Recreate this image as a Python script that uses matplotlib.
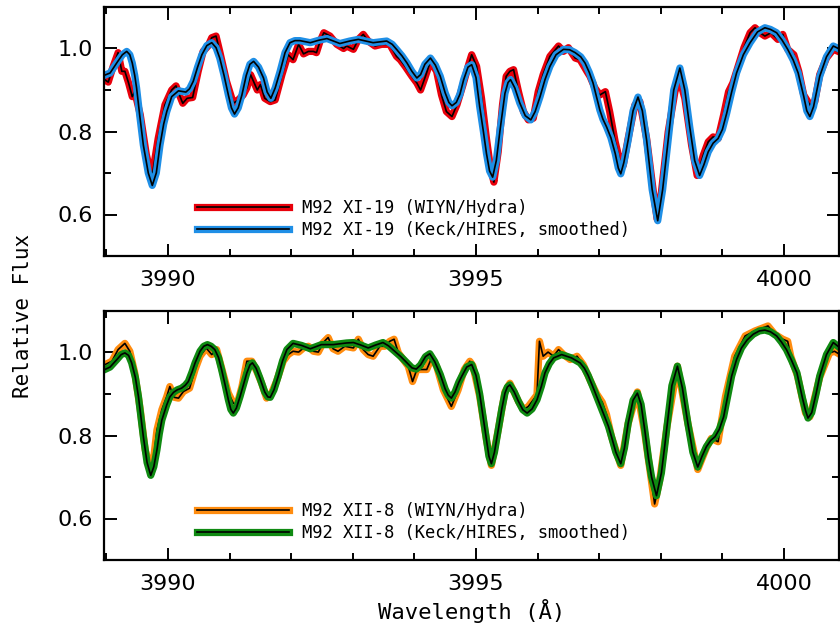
import numpy as np
import matplotlib.pyplot as plt
from matplotlib.ticker import MultipleLocator, FormatStrFormatter
from matplotlib.legend_handler import HandlerTuple

# M92 XI-19, WIYN/Hydra
wl_xi19_wiyn = [3988.95, 3989.03, 3989.11, 3989.19, 3989.25, 3989.30, 3989.36, 3989.42, 3989.46, 3989.55,
                3989.65, 3989.74, 3989.84, 3989.95, 3990.06, 3990.13, 3990.18, 3990.24, 3990.31, 3990.40,
                3990.49, 3990.57, 3990.65, 3990.71, 3990.78, 3990.84, 3990.95, 3991.06, 3991.14, 3991.22,
                3991.28, 3991.34, 3991.40, 3991.45, 3991.50, 3991.57, 3991.66, 3991.74, 3991.85, 3991.95,
                3992.03, 3992.12, 3992.20, 3992.28, 3992.36, 3992.41, 3992.47, 3992.53, 3992.63, 3992.74,
                3992.85, 3992.90, 3993.01, 3993.09, 3993.17, 3993.25, 3993.36, 3993.47, 3993.60, 3993.71,
                3993.77, 3993.85, 3993.96, 3994.04, 3994.10, 3994.17, 3994.26, 3994.36, 3994.44, 3994.52,
                3994.61, 3994.69, 3994.79, 3994.88, 3994.93, 3995.01, 3995.09, 3995.17, 3995.23, 3995.29,
                3995.36, 3995.43, 3995.49, 3995.55, 3995.61, 3995.69, 3995.77, 3995.85, 3995.93, 3996.01,
                3996.09, 3996.20, 3996.34, 3996.42, 3996.50, 3996.61, 3996.69, 3996.80, 3996.85, 3996.93,
                3997.01, 3997.10, 3997.17, 3997.26, 3997.34, 3997.39, 3997.47, 3997.58, 3997.66, 3997.77,
                3997.88, 3997.94, 3998.01, 3998.12, 3998.23, 3998.30, 3998.39, 3998.50, 3998.59, 3998.69,
                3998.77, 3998.85, 3998.93, 3999.02, 3999.10, 3999.17, 3999.23, 3999.35, 3999.45, 3999.53,
                3999.61, 3999.69, 3999.79, 3999.90, 3999.98, 4000.06, 4000.16, 4000.24, 4000.32, 4000.42,
                4000.50, 4000.58, 4000.69, 4000.80, 4000.88]
fx_xi19_wiyn = [0.927, 0.919, 0.957, 0.990, 0.945, 0.945, 0.917, 0.884, 0.896, 0.840,
                0.743, 0.690, 0.783, 0.864, 0.900, 0.910, 0.890, 0.868, 0.880, 0.882,
                0.945, 0.993, 1.006, 1.026, 1.030, 0.993, 0.921, 0.868, 0.876, 0.888,
                0.905, 0.937, 0.917, 0.900, 0.913, 0.880, 0.872, 0.876, 0.937, 0.985,
                0.973, 1.010, 0.987, 0.993, 0.993, 0.990, 1.018, 1.038, 1.030, 1.010,
                1.000, 1.006, 0.998, 1.022, 1.034, 1.018, 1.006, 1.010, 1.010, 0.981,
                0.973, 0.957, 0.933, 0.917, 0.900, 0.929, 0.969, 0.945, 0.888, 0.848,
                0.836, 0.864, 0.913, 0.961, 0.985, 0.957, 0.880, 0.783, 0.718, 0.678,
                0.751, 0.864, 0.933, 0.945, 0.949, 0.896, 0.848, 0.828, 0.832, 0.896,
                0.937, 0.981, 1.006, 0.993, 1.002, 0.977, 0.973, 0.945, 0.933, 0.905,
                0.888, 0.896, 0.848, 0.775, 0.726, 0.718, 0.783, 0.864, 0.872, 0.783,
                0.654, 0.589, 0.654, 0.799, 0.896, 0.929, 0.880, 0.767, 0.694, 0.743,
                0.775, 0.787, 0.783, 0.840, 0.896, 0.917, 0.945, 1.002, 1.038, 1.050,
                1.038, 1.030, 1.038, 1.022, 1.034, 0.998, 0.985, 0.945, 0.888, 0.864,
                0.872, 0.937, 0.977, 0.998, 0.993]

# M92 XI-19, Keck/HIRES smoothed
wl_xi19_keck = [3988.96, 3989.06, 3989.18, 3989.26, 3989.33, 3989.38, 3989.42, 3989.46, 3989.49, 3989.54,
                3989.60, 3989.68, 3989.745, 3989.81, 3989.87, 3989.93, 3989.98, 3990.06, 3990.17, 3990.29,
                3990.35, 3990.41, 3990.48, 3990.55, 3990.63, 3990.71, 3990.78, 3990.84, 3990.91, 3990.98,
                3991.03, 3991.08, 3991.14, 3991.20, 3991.27, 3991.33, 3991.39, 3991.47, 3991.55, 3991.61,
                3991.67, 3991.74, 3991.82, 3991.90, 3991.98, 3992.06, 3992.14, 3992.31, 3992.45, 3992.58,
                3992.79, 3992.95, 3993.09, 3993.33, 3993.55, 3993.64, 3993.71, 3993.80, 3993.88, 3993.96,
                3994.04, 3994.10, 3994.17, 3994.26, 3994.34, 3994.42, 3994.50, 3994.56, 3994.61, 3994.68,
                3994.74, 3994.80, 3994.87, 3994.93, 3995.00, 3995.06, 3995.12, 3995.17, 3995.22, 3995.27,
                3995.33, 3995.39, 3995.47, 3995.52, 3995.56, 3995.63, 3995.71, 3995.80, 3995.89, 3995.96,
                3996.04, 3996.12, 3996.20, 3996.30, 3996.42, 3996.52, 3996.61, 3996.70, 3996.77, 3996.84,
                3996.90, 3996.96, 3997.01, 3997.06, 3997.12, 3997.19, 3997.26, 3997.31, 3997.35, 3997.40,
                3997.47, 3997.55, 3997.63, 3997.70, 3997.77, 3997.86, 3997.95, 3998.03, 3998.12, 3998.21,
                3998.31, 3998.39, 3998.47, 3998.55, 3998.63, 3998.70, 3998.77, 3998.85, 3998.93, 3999.00,
                3999.07, 3999.15, 3999.23, 3999.34, 3999.45, 3999.57, 3999.69, 3999.78, 3999.88, 3999.97,
                4000.06, 4000.15, 4000.23, 4000.32, 4000.37, 4000.42, 4000.48, 4000.58, 4000.69, 4000.80,
                4000.91]
fx_xi19_keck = [0.935, 0.941, 0.968, 0.985, 0.993, 0.985, 0.965, 0.935, 0.905, 0.840,
                0.767, 0.700, 0.670, 0.700, 0.767, 0.818, 0.848, 0.884, 0.898, 0.895,
                0.903, 0.921, 0.955, 0.985, 1.007, 1.014, 1.002, 0.977, 0.935, 0.888,
                0.857, 0.842, 0.857, 0.888, 0.935, 0.962, 0.969, 0.955, 0.929, 0.895,
                0.880, 0.905, 0.945, 0.990, 1.014, 1.019, 1.019, 1.014, 1.020, 1.024,
                1.012, 1.018, 1.022, 1.014, 1.018, 1.010, 0.998, 0.982, 0.965, 0.945,
                0.929, 0.937, 0.962, 0.977, 0.960, 0.933, 0.893, 0.870, 0.862, 0.870,
                0.890, 0.925, 0.955, 0.961, 0.930, 0.860, 0.800, 0.747, 0.705, 0.690,
                0.730, 0.803, 0.892, 0.918, 0.925, 0.905, 0.869, 0.838, 0.828, 0.848,
                0.884, 0.925, 0.957, 0.985, 0.998, 0.997, 0.990, 0.980, 0.965, 0.942,
                0.917, 0.882, 0.852, 0.830, 0.811, 0.785, 0.747, 0.712, 0.698, 0.725,
                0.779, 0.850, 0.883, 0.850, 0.779, 0.660, 0.585, 0.660, 0.779, 0.900,
                0.953, 0.900, 0.811, 0.730, 0.694, 0.720, 0.751, 0.772, 0.783, 0.805,
                0.844, 0.895, 0.941, 0.985, 1.014, 1.040, 1.050, 1.046, 1.038, 1.020,
                0.998, 0.972, 0.941, 0.885, 0.850, 0.836, 0.860, 0.933, 0.980, 1.006,
                0.998]

# M92 XII-8, WIYN/Hydra
wl_xii8_wiyn = [3988.98, 3989.09, 3989.19, 3989.30, 3989.38, 3989.46, 3989.55, 3989.63, 3989.71, 3989.75,
                3989.82, 3989.90, 3989.98, 3990.03, 3990.10, 3990.17, 3990.25, 3990.35, 3990.44, 3990.52,
                3990.62, 3990.71, 3990.79, 3990.87, 3990.98, 3991.06, 3991.12, 3991.20, 3991.28, 3991.36,
                3991.44, 3991.52, 3991.60, 3991.68, 3991.76, 3991.87, 3991.95, 3992.03, 3992.12, 3992.20,
                3992.28, 3992.36, 3992.44, 3992.52, 3992.60, 3992.68, 3992.76, 3992.87, 3993.01, 3993.09,
                3993.17, 3993.25, 3993.33, 3993.44, 3993.52, 3993.60, 3993.67, 3993.74, 3993.82, 3993.90,
                3993.97, 3994.04, 3994.12, 3994.20, 3994.28, 3994.36, 3994.47, 3994.60, 3994.71, 3994.81,
                3994.90, 3994.95, 3995.06, 3995.17, 3995.25, 3995.36, 3995.47, 3995.55, 3995.69, 3995.77,
                3995.85, 3995.93, 3995.99, 3996.03, 3996.09, 3996.17, 3996.26, 3996.34, 3996.42, 3996.53,
                3996.64, 3996.74, 3996.85, 3996.96, 3997.05, 3997.12, 3997.20, 3997.35, 3997.47, 3997.62,
                3997.74, 3997.82, 3997.90, 3997.98, 3998.10, 3998.27, 3998.44, 3998.60, 3998.74, 3998.82,
                3998.93, 3999.05, 3999.20, 3999.37, 3999.53, 3999.74, 3999.85, 3999.98, 4000.06, 4000.11,
                4000.22, 4000.35, 4000.42, 4000.58, 4000.74, 4000.82, 4000.91]
fx_xii8_wiyn = [0.971, 0.979, 1.007, 1.022, 1.003, 0.951, 0.862, 0.765, 0.724, 0.724,
                0.813, 0.862, 0.894, 0.918, 0.892, 0.890, 0.906, 0.914, 0.959, 0.991,
                1.011, 0.995, 1.007, 0.963, 0.902, 0.878, 0.874, 0.918, 0.979, 0.979,
                0.955, 0.926, 0.890, 0.902, 0.930, 0.979, 0.995, 1.003, 1.001, 1.011,
                1.015, 1.003, 1.001, 1.024, 1.036, 1.009, 1.003, 1.015, 1.011, 1.032,
                1.007, 0.995, 0.991, 1.015, 1.015, 1.027, 1.032, 0.999, 0.983, 0.967,
                0.930, 0.959, 0.959, 0.959, 0.987, 0.967, 0.910, 0.870, 0.910, 0.959,
                0.979, 0.968, 0.894, 0.789, 0.728, 0.813, 0.905, 0.926, 0.882, 0.862,
                0.870, 0.886, 0.898, 1.027, 0.991, 1.001, 0.991, 1.007, 0.995, 0.983,
                0.991, 0.971, 0.934, 0.900, 0.880, 0.850, 0.797, 0.728, 0.829, 0.905,
                0.805, 0.720, 0.635, 0.690, 0.821, 0.967, 0.829, 0.718, 0.770, 0.793,
                0.785, 0.894, 0.991, 1.040, 1.052, 1.064, 1.044, 1.032, 1.027, 0.991,
                0.943, 0.854, 0.845, 0.940, 0.999, 1.003, 0.995]

# M92 XII-8, Keck/HIRES smoothed
wl_xii8_keck = [3988.96, 3989.06, 3989.17, 3989.24, 3989.30, 3989.36, 3989.41, 3989.47, 3989.52, 3989.56,
                3989.60, 3989.66, 3989.72, 3989.77, 3989.82, 3989.86, 3989.90, 3989.98, 3990.03, 3990.09,
                3990.15, 3990.22, 3990.28, 3990.33, 3990.39, 3990.44, 3990.52, 3990.58, 3990.64, 3990.70,
                3990.76, 3990.82, 3990.87, 3990.93, 3990.98, 3991.02, 3991.06, 3991.11, 3991.17, 3991.23,
                3991.28, 3991.33, 3991.37, 3991.43, 3991.49, 3991.57, 3991.62, 3991.66, 3991.72, 3991.79,
                3991.86, 3991.93, 3992.03, 3992.17, 3992.31, 3992.40, 3992.49, 3992.68, 3992.90, 3993.01,
                3993.13, 3993.25, 3993.37, 3993.49, 3993.58, 3993.68, 3993.78, 3993.88, 3993.96, 3994.03,
                3994.10, 3994.18, 3994.25, 3994.33, 3994.42, 3994.50, 3994.55, 3994.60, 3994.66, 3994.72,
                3994.77, 3994.85, 3994.93, 3995.00, 3995.06, 3995.12, 3995.17, 3995.21, 3995.25, 3995.30,
                3995.36, 3995.42, 3995.47, 3995.51, 3995.55, 3995.62, 3995.69, 3995.76, 3995.83, 3995.91,
                3995.99, 3996.06, 3996.12, 3996.19, 3996.26, 3996.39, 3996.55, 3996.69, 3996.76, 3996.82,
                3996.89, 3996.96, 3997.03, 3997.09, 3997.15, 3997.20, 3997.27, 3997.35, 3997.41, 3997.47,
                3997.55, 3997.62, 3997.68, 3997.74, 3997.80, 3997.85, 3997.93, 3998.01, 3998.06, 3998.10,
                3998.18, 3998.27, 3998.35, 3998.44, 3998.52, 3998.60, 3998.67, 3998.74, 3998.81, 3998.88,
                3998.95, 3999.02, 3999.08, 3999.15, 3999.23, 3999.31, 3999.40, 3999.50, 3999.60, 3999.69,
                3999.78, 3999.88, 3999.96, 4000.04, 4000.12, 4000.21, 4000.30, 4000.35, 4000.39, 4000.45,
                4000.52, 4000.58, 4000.69, 4000.80, 4000.91]
fx_xii8_keck = [0.958, 0.965, 0.983, 0.995, 0.999, 0.993, 0.975, 0.940, 0.894, 0.845,
                0.797, 0.735, 0.704, 0.725, 0.765, 0.805, 0.837, 0.874, 0.893, 0.904,
                0.910, 0.914, 0.921, 0.930, 0.953, 0.975, 1.003, 1.015, 1.019, 1.015,
                1.007, 0.988, 0.959, 0.920, 0.886, 0.863, 0.854, 0.866, 0.894, 0.925,
                0.951, 0.970, 0.975, 0.962, 0.939, 0.905, 0.893, 0.892, 0.910, 0.943,
                0.980, 1.007, 1.022, 1.017, 1.009, 1.014, 1.019, 1.019, 1.023, 1.024,
                1.018, 1.011, 1.018, 1.024, 1.016, 1.003, 0.990, 0.975, 0.963, 0.960,
                0.970, 0.990, 0.997, 0.978, 0.947, 0.912, 0.897, 0.890, 0.905, 0.928,
                0.943, 0.965, 0.971, 0.945, 0.900, 0.840, 0.789, 0.750, 0.732, 0.760,
                0.813, 0.865, 0.902, 0.917, 0.922, 0.905, 0.882, 0.862, 0.854, 0.864,
                0.886, 0.918, 0.951, 0.973, 0.987, 0.995, 0.987, 0.975, 0.962, 0.945,
                0.920, 0.894, 0.868, 0.845, 0.822, 0.797, 0.760, 0.732, 0.770, 0.829,
                0.885, 0.902, 0.875, 0.813, 0.745, 0.700, 0.655, 0.710, 0.770, 0.821,
                0.920, 0.967, 0.915, 0.829, 0.760, 0.724, 0.750, 0.773, 0.788, 0.797,
                0.815, 0.845, 0.890, 0.943, 0.983, 1.011, 1.030, 1.044, 1.052, 1.054,
                1.050, 1.040, 1.025, 1.007, 0.982, 0.951, 0.890, 0.860, 0.842, 0.855,
                0.900, 0.943, 0.995, 1.024, 1.011]

labels_top = ["M92 XI-19 (WIYN/Hydra)", "M92 XI-19 (Keck/HIRES, smoothed)"]
labels_bot = ["M92 XII-8 (WIYN/Hydra)", "M92 XII-8 (Keck/HIRES, smoothed)"]

tick_font = "DejaVu Sans"
text_font = "DejaVu Sans Mono"


def spectrum(ax, wl, fx, color):
    # thick coloured band with a thin black trace on top
    band, = ax.plot(wl, fx, color=color, lw=5.2, solid_joinstyle="round")
    core, = ax.plot(wl, fx, color="black", lw=1.2, solid_joinstyle="round")
    return (band, core)


def style(ax):
    ax.set_xlim(3988.961, 4000.893)
    ax.set_ylim(0.5, 1.1)
    ax.xaxis.set_major_locator(MultipleLocator(5))
    ax.xaxis.set_minor_locator(MultipleLocator(1))
    ax.yaxis.set_major_locator(MultipleLocator(0.2))
    ax.yaxis.set_minor_locator(MultipleLocator(0.1))
    ax.yaxis.set_major_formatter(FormatStrFormatter("%.1f"))
    ax.xaxis.set_major_formatter(FormatStrFormatter("%d"))
    ax.tick_params(which="both", direction="in", top=True, right=True, width=1.4)
    ax.tick_params(which="major", length=9, labelsize=16)
    ax.tick_params(axis="x", which="major", pad=10)
    ax.tick_params(axis="y", which="major", pad=8)
    ax.tick_params(which="minor", length=5)
    for lab in ax.get_xticklabels() + ax.get_yticklabels():
        lab.set_family(tick_font)
    for s in ax.spines.values():
        s.set_linewidth(1.6)


fig = plt.figure(figsize=(8.4, 6.26), dpi=100)
ax1 = fig.add_axes([104 / 840, 370 / 626, 735 / 840, 249 / 626])
ax2 = fig.add_axes([104 / 840, 66 / 626, 735 / 840, 249 / 626])

panels = [
    (ax1, wl_xi19_wiyn, fx_xi19_wiyn, "#e8000b", wl_xi19_keck, fx_xi19_keck, "#1f8fe6", labels_top, 0.068),
    (ax2, wl_xii8_wiyn, fx_xii8_wiyn, "#ff8c0f", wl_xii8_keck, fx_xii8_keck, "#0f8a12", labels_bot, 0.071),
]

for ax, wl_a, fx_a, col_a, wl_b, fx_b, col_b, labels, leg_y in panels:
    h_a = spectrum(ax, wl_a, fx_a, col_a)
    h_b = spectrum(ax, wl_b, fx_b, col_b)
    style(ax)
    ax.legend([h_a, h_b], labels, handler_map={tuple: HandlerTuple(ndivide=1, pad=0)},
              loc="lower left", bbox_to_anchor=(0.126, leg_y), frameon=False,
              prop={"family": text_font, "size": 12.3}, handlelength=5.4,
              handletextpad=0.75, labelspacing=0.25, borderpad=0, borderaxespad=0)

ax2.set_xlabel("Wavelength (Å)", fontsize=16, family=text_font, labelpad=4)
fig.text(0.027, 0.495, "Relative Flux", rotation=90, ha="center", va="center",
         fontsize=15, family=text_font)

fig.savefig("out.png", dpi=100)
